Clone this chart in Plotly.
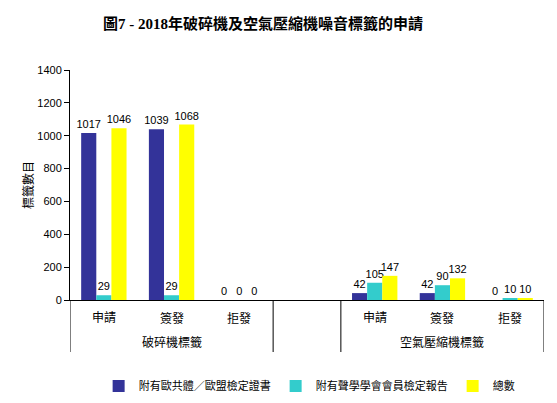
import plotly.graph_objects as go

# category groups (blank middle slot gives the gap between the two groups)
groups = ["破碎機標籤"] * 3 + [""] + ["空氣壓縮機標籤"] * 3
items = ["申請", "簽發", "拒發", "", "申請", "簽發", "拒發"]

series_names = ["附有歐共體／歐盟檢定證書", "附有聲學學會會員檢定報告", "總數"]
eu_cert = [1017, 1039, 0, None, 42, 42, 0]
acoustic = [29, 29, 0, None, 105, 90, 10]
total = [1046, 1068, 0, None, 147, 132, 10]
colors = ["#333399", "#33CCCC", "#FFFF00"]

FONT = "Arial, 'Liberation Sans', 'Noto Sans CJK TC', sans-serif"
pos = list(range(len(items)))

fig = go.Figure()
for name, vals, col in zip(series_names, [eu_cert, acoustic, total], colors):
    fig.add_trace(go.Bar(
        x=pos, y=vals, name=name, marker_color=col,
        marker_line_width=0,
        text=[("" if v is None else str(v)) for v in vals],
        textposition="outside", cliponaxis=False, constraintext="none",
        textangle=0,
        textfont=dict(size=11, color="black", family=FONT),
    ))

# category labels under the axis
for i, lab in enumerate(items):
    if lab:
        fig.add_annotation(x=i, y=0, xref="x", yref="paper", yshift=-18, yanchor="middle",
                           text=lab, showarrow=False, font=dict(size=12))

# group labels and dividers between groups
bounds = [-0.5]
starts = [0]
for i in range(1, len(groups)):
    if groups[i] != groups[i - 1]:
        bounds.append(i - 0.5)
        starts.append(i)
bounds.append(len(groups) - 0.5)
starts.append(len(groups))
for s, e in zip(starts[:-1], starts[1:]):
    if groups[s]:
        fig.add_annotation(x=(s + e - 1) / 2, y=0, xref="x", yref="paper", yshift=-42,
                           yanchor="middle", text=groups[s], showarrow=False,
                           font=dict(size=12))
for b in bounds:
    fig.add_shape(type="line", xref="x", yref="paper", x0=b, x1=b,
                  ysizemode="pixel", yanchor=0, y0=0, y1=-52,
                  line=dict(color="black", width=1))

fig.update_layout(
    width=557, height=403,
    margin=dict(l=70, r=13, t=70, b=103),
    paper_bgcolor="white", plot_bgcolor="white",
    font=dict(family=FONT, size=11, color="black"),
    barmode="group", bargap=0.33, bargroupgap=0,
    title=dict(text="<b>圖7 - 2018年破碎機及空氣壓縮機噪音標籤的申請</b>",
               x=0.472, xanchor="center", y=0.94, yref="container", yanchor="middle",
               font=dict(family="'Liberation Serif', 'Noto Sans CJK TC', serif", size=15, color="black")),
    legend=dict(orientation="h", x=0.555, xref="container", xanchor="center",
                y=0.042, yref="container", yanchor="middle",
                font=dict(size=11), traceorder="normal", itemwidth=30),
    showlegend=True,
)
fig.update_xaxes(
    range=[-0.5, len(items) - 0.5], showticklabels=False, ticks="",
    showgrid=False, zeroline=False, automargin=False,
    showline=True, linecolor="black", linewidth=1,
)
fig.update_yaxes(
    range=[0, 1400], dtick=200, showgrid=False, zeroline=False, automargin=False,
    showline=True, linecolor="black", linewidth=1,
    ticks="outside", ticklen=5, tickcolor="black",
    tickfont=dict(size=11),
    title=dict(text="標籤數目", font=dict(size=12), standoff=1),
)

# drop the browser's default page margin so the figure sits at the window corner
fig.write_html("out.html", config={"displayModeBar": False},
               post_script="document.body.style.margin='0';")
